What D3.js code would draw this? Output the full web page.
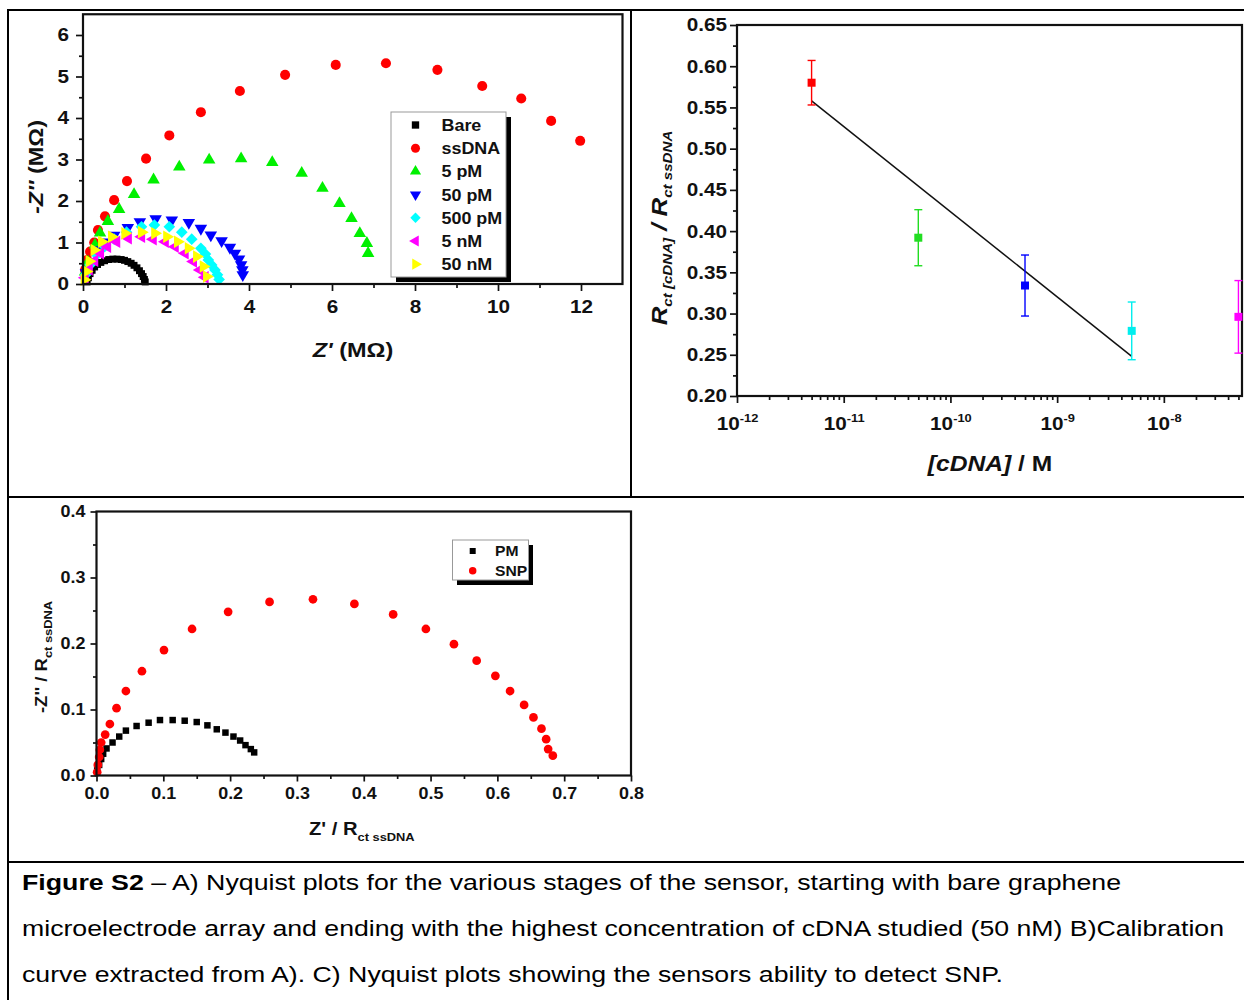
<!DOCTYPE html>
<html>
<head>
<meta charset="utf-8">
<script src="https://cdn.jsdelivr.net/npm/d3@7"></script>
<style>
  body { margin: 0; background: #fff; }
  svg { display: block; font-family: "Liberation Sans", Arial, sans-serif; }
</style>
</head>
<body>
<svg id="fig" width="1244" height="1000"></svg>
<script>
// ---------- panel A : Nyquist plots (MOhm) ----------
const aXTicks = [0, 2, 4, 6, 8, 10, 12];
const aXMinor = [1, 3, 5, 7, 9, 11];
const aYTicks = [0, 1, 2, 3, 4, 5, 6];
const aYMinor = [0.5, 1.5, 2.5, 3.5, 4.5, 5.5];

const bare = [[0.10,0.05],[0.13,0.15],[0.17,0.25],[0.22,0.33],[0.28,0.41],[0.35,0.47],[0.43,0.52],
  [0.52,0.56],[0.62,0.59],[0.72,0.60],[0.82,0.60],[0.92,0.59],[1.00,0.57],[1.08,0.54],[1.16,0.50],
  [1.23,0.45],[1.30,0.39],[1.36,0.32],[1.41,0.25],[1.45,0.18],[1.48,0.11],[1.50,0.05]];
const ssDNA = [[0.05,0.34],[0.10,0.58],[0.17,0.78],[0.27,1.00],[0.36,1.30],[0.53,1.63],[0.75,2.02],
  [1.06,2.48],[1.52,3.02],[2.08,3.58],[2.84,4.14],[3.78,4.65],[4.87,5.04],[6.09,5.28],[7.30,5.32],
  [8.54,5.16],[9.62,4.77],[10.56,4.47],[11.28,3.93],[11.98,3.45]];
const pM5 = [[0.05,0.29],[0.12,0.53],[0.29,0.94],[0.41,1.23],[0.60,1.51],[0.87,1.80],[1.23,2.16],
  [1.70,2.51],[2.32,2.82],[3.04,2.99],[3.81,3.02],[4.56,2.93],[5.27,2.67],[5.77,2.31],[6.18,1.94],
  [6.47,1.58],[6.67,1.22],[6.84,0.98],[6.87,0.74]];
const pM50 = [[0.07,0.27],[0.22,0.53],[0.41,0.82],[0.53,1.01],[0.75,1.17],[1.08,1.36],[1.37,1.50],
  [1.75,1.57],[2.14,1.54],[2.55,1.48],[2.84,1.34],[3.08,1.18],[3.34,1.04],[3.54,0.88],[3.66,0.74],
  [3.76,0.60],[3.81,0.46],[3.84,0.34],[3.85,0.22]];
const pM500 = [[0.06,0.22],[0.17,0.46],[0.33,0.70],[0.52,0.90],[0.75,1.08],[1.05,1.25],[1.41,1.38],
  [1.72,1.42],[2.08,1.38],[2.38,1.25],[2.62,1.08],[2.84,0.86],[2.95,0.72],[3.02,0.58],[3.10,0.46],
  [3.18,0.34],[3.24,0.22],[3.28,0.11]];
const nM5 = [[0.05,0.15],[0.15,0.35],[0.28,0.56],[0.42,0.74],[0.59,0.90],[0.81,1.02],[1.09,1.10],
  [1.41,1.14],[1.69,1.08],[1.98,1.02],[2.22,0.90],[2.46,0.74],[2.66,0.54],[2.82,0.34],[2.94,0.16]];
const nM50 = [[0.03,0.10],[0.08,0.30],[0.15,0.55],[0.27,0.82],[0.45,1.02],[0.69,1.14],[1.01,1.22],
  [1.41,1.25],[1.73,1.22],[2.02,1.14],[2.28,1.02],[2.54,0.86],[2.74,0.66],[2.90,0.42],[2.98,0.18]];

const aNames = ["Bare", "ssDNA", "5 pM", "50 pM", "500 pM", "5 nM", "50 nM"];
const aColors = ["#000000", "#ff0000", "#00f000", "#0000ff", "#00ffff", "#ff00ff", "#ffff00"];
const aShapes = ["square", "circle", "up", "down", "diamond", "left", "right"];
const aData = [bare, ssDNA, pM5, pM50, pM500, nM5, nM50];

// ---------- panel B : calibration ----------
const bConc = [5e-12, 5e-11, 5e-10, 5e-9, 5e-8];
const bRatio = [0.580, 0.392, 0.334, 0.279, 0.296];
const bErr = [0.027, 0.034, 0.037, 0.035, 0.044];
const bColors = ["#ff0000", "#22dd22", "#0000ff", "#00eeee", "#ff00ff"];
const bFit = [[5e-12, 0.558], [5e-9, 0.248]];
const bXTicks = [1e-12, 1e-11, 1e-10, 1e-9, 1e-8];
const bYTicks = [0.20, 0.25, 0.30, 0.35, 0.40, 0.45, 0.50, 0.55, 0.60, 0.65];
const bYMinor = [0.225, 0.275, 0.325, 0.375, 0.425, 0.475, 0.525, 0.575, 0.625];

// ---------- panel C : SNP ----------
const pm = [[0.001,0.008],[0.004,0.016],[0.007,0.025],[0.010,0.033],[0.015,0.041],[0.024,0.050],
  [0.034,0.059],[0.044,0.068],[0.060,0.075],[0.078,0.080],[0.095,0.084],[0.114,0.084],[0.132,0.083],
  [0.150,0.081],[0.166,0.076],[0.180,0.070],[0.193,0.065],[0.205,0.059],[0.215,0.053],[0.223,0.046],
  [0.231,0.040],[0.236,0.035]];
const snp = [[0.001,0.005],[0.002,0.016],[0.004,0.028],[0.005,0.039],[0.007,0.050],[0.013,0.062],
  [0.020,0.078],[0.030,0.102],[0.044,0.128],[0.068,0.158],[0.101,0.190],[0.143,0.222],[0.197,0.248],
  [0.259,0.263],[0.324,0.267],[0.386,0.260],[0.444,0.244],[0.493,0.222],[0.535,0.199],[0.569,0.174],
  [0.597,0.151],[0.619,0.128],[0.640,0.107],[0.654,0.088],[0.666,0.071],[0.673,0.055],[0.676,0.040],
  [0.683,0.030]];
const cNames = ["PM", "SNP"];
const cColors = ["#000000", "#ff0000"];
const cXTicks = [0, 0.1, 0.2, 0.3, 0.4, 0.5, 0.6, 0.7, 0.8];
const cXMinor = [0.05, 0.15, 0.25, 0.35, 0.45, 0.55, 0.65, 0.75];
const cYTicks = [0, 0.1, 0.2, 0.3, 0.4];
const cYMinor = [0.05, 0.15, 0.25, 0.35];

const captionLines = [
  [["Figure S2", "bold"], [" \u2013 A) Nyquist plots for the various stages of the sensor, starting with bare graphene", "normal"]],
  [["microelectrode array and ending with the highest concentration of cDNA studied (50 nM) B)Calibration", "normal"]],
  [["curve extracted from A). C) Nyquist plots showing the sensors ability to detect SNP.", "normal"]]
];

const SX = 1.12; // lettering in the scan is a bit wider than Arial
const svg = d3.select("#fig");

// table rules
[[7, 10, 1244, 10], [8, 10, 8, 1000], [631, 10, 631, 497], [8, 497, 1244, 497], [8, 862, 1244, 862]]
  .forEach(r => svg.append("line").attr("x1", r[0]).attr("y1", r[1]).attr("x2", r[2]).attr("y2", r[3])
    .attr("stroke", "#000").attr("stroke-width", 2));

function marker(kind, size) {
  const map = {
    square: [d3.symbolSquare, 0], circle: [d3.symbolCircle, 0], up: [d3.symbolTriangle, 0],
    down: [d3.symbolTriangle, 180], diamond: [d3.symbolSquare, 45],
    left: [d3.symbolTriangle, -90], right: [d3.symbolTriangle, 90]
  };
  const m = map[kind];
  return { d: d3.symbol().type(m[0]).size(size)(), rot: m[1] };
}

function axes(g, x, y, o) {
  const [x0, x1] = x.range(), [y0, y1] = y.range();
  g.append("g").attr("transform", `translate(0,${y0})`)
    .call(d3.axisBottom(x).tickValues(o.xMinor).tickSize(o.minor).tickFormat(""));
  g.append("g").attr("transform", `translate(${x0},0)`)
    .call(d3.axisLeft(y).tickValues(o.yMinor).tickSize(o.minor).tickFormat(""));
  const xa = g.append("g").attr("transform", `translate(0,${y0})`)
    .call(d3.axisBottom(x).tickValues(o.xTicks).tickSize(o.major).tickPadding(o.xPad).tickFormat(o.xFormat));
  const ya = g.append("g").attr("transform", `translate(${x0},0)`)
    .call(d3.axisLeft(y).tickValues(o.yTicks).tickSize(o.major).tickPadding(0).tickFormat(o.yFormat));
  g.selectAll(".domain").remove();
  g.selectAll("g").attr("font-family", null).attr("font-size", null);
  g.selectAll(".tick line").attr("stroke", "#111").attr("stroke-width", 1.7);
  g.selectAll(".tick text").attr("font-weight", "bold").attr("font-size", o.font).attr("fill", "#111")
    .attr("transform", `scale(${SX},1)`);
  ya.selectAll(".tick text").attr("x", -(o.major + o.yPad) / SX);
  g.append("rect").attr("x", x0).attr("y", y1).attr("width", x1 - x0).attr("height", y0 - y1)
    .attr("fill", "none").attr("stroke", "#111").attr("stroke-width", 2.2);
  return { xa, ya };
}

function label(g, x, y, rot, parts, size, anchor) {
  const t = g.append("text")
    .attr("transform", `translate(${x},${y}) rotate(${rot}) scale(${SX},1)`)
    .attr("text-anchor", anchor || "middle").attr("font-weight", "bold").attr("font-size", size).attr("fill", "#111");
  parts.forEach(p => t.append("tspan").attr("font-style", p.i ? "italic" : "normal")
    .attr("font-size", p.s || size).attr("dy", p.dy || 0).text(p.t));
  return t;
}

// ================= A =================
const gA = svg.append("g");
const ax = d3.scaleLinear().domain([0, 13]).range([83, 622.5]);
const ay = d3.scaleLinear().domain([0, 6.5]).range([284, 14.25]);

aData.forEach((pts, i) => {
  const m = marker(aShapes[i], i === 0 ? 48 : (i === 1 ? 80 : 68));
  gA.append("g").selectAll("path").data(pts).join("path")
    .attr("d", m.d)
    .attr("transform", d => `translate(${ax(d[0])},${ay(d[1])}) rotate(${m.rot})`)
    .attr("fill", aColors[i]);
});
axes(gA, ax, ay, { xTicks: aXTicks, xMinor: aXMinor, yTicks: aYTicks, yMinor: aYMinor,
  major: 7, minor: 4, xPad: 9, yPad: 7, font: 18.5, xFormat: d3.format("d"), yFormat: d3.format("d") });

label(gA, 353, 357, 0, [{ t: "Z'", i: true }, { t: " (M\u03a9)" }], 21);
label(gA, 43, 167, -90, [{ t: "-Z''", i: true }, { t: " (M\u03a9)" }], 21);

// legend A
const lgA = gA.append("g");
lgA.append("rect").attr("x", 396).attr("y", 117).attr("width", 115).attr("height", 165).attr("fill", "#000");
lgA.append("rect").attr("x", 391).attr("y", 112).attr("width", 115).attr("height", 165)
  .attr("fill", "#fff").attr("stroke", "#999").attr("stroke-width", 1);
aNames.forEach((name, i) => {
  const yy = 125 + i * 23.2;
  const m = marker(aShapes[i], i === 1 ? 64 : 54);
  lgA.append("path").attr("d", m.d).attr("transform", `translate(415.5,${yy}) rotate(${m.rot})`).attr("fill", aColors[i]);
  label(lgA, 441.5, yy + 6, 0, [{ t: name }], 16, "start");
});

// ================= B =================
const gB = svg.append("g");
const bx = d3.scaleLog().domain([1e-12, 5.4e-8]).range([737, 1242]);
const by = d3.scaleLinear().domain([0.2, 0.65]).range([396, 25]);
const bMinor = [];
for (let e = -12; e <= -8; e++) for (let k = 2; k <= 9; k++) {
  const v = k * Math.pow(10, e);
  if (v < 5.4e-8) bMinor.push(v);
}
const bAx = axes(gB, bx, by, { xTicks: bXTicks, xMinor: bMinor, yTicks: bYTicks, yMinor: bYMinor,
  major: 7, minor: 4, xPad: 14, yPad: 3, font: 18.5, xFormat: () => "10", yFormat: d3.format(".2f") });
bAx.xa.selectAll(".tick text").each(function (d) {
  d3.select(this).append("tspan").attr("font-size", 11.5).attr("dy", -8).text(Math.round(Math.log10(d)));
});

gB.append("path").datum(bFit)
  .attr("d", d3.line().x(d => bx(d[0])).y(d => by(d[1])))
  .attr("fill", "none").attr("stroke", "#111").attr("stroke-width", 1.5);

const bPts = gB.append("g").selectAll("g").data(bConc).join("g");
bPts.append("line").attr("x1", d => bx(d)).attr("x2", d => bx(d))
  .attr("y1", (d, i) => by(bRatio[i] + bErr[i])).attr("y2", (d, i) => by(bRatio[i] - bErr[i]))
  .attr("stroke", (d, i) => bColors[i]).attr("stroke-width", 1.4);
[1, -1].forEach(sgn => bPts.append("line")
  .attr("x1", d => bx(d) - 4).attr("x2", d => bx(d) + 4)
  .attr("y1", (d, i) => by(bRatio[i] + sgn * bErr[i])).attr("y2", (d, i) => by(bRatio[i] + sgn * bErr[i]))
  .attr("stroke", (d, i) => bColors[i]).attr("stroke-width", 1.4));
bPts.append("rect").attr("x", d => bx(d) - 4).attr("y", (d, i) => by(bRatio[i]) - 4)
  .attr("width", 8).attr("height", 8).attr("fill", (d, i) => bColors[i]);

label(gB, 990, 471, 0, [{ t: "[cDNA]", i: true }, { t: " / M" }], 22);
label(gB, 667, 228, -90, [
  { t: "R", i: true, s: 23 }, { t: "ct [cDNA]", i: true, s: 13.5, dy: 5 },
  { t: " / R", i: true, s: 23, dy: -5 }, { t: "ct ssDNA", i: true, s: 13.5, dy: 5 }], 22);

// ================= C =================
const gC = svg.append("g");
const cx = d3.scaleLinear().domain([0, 0.8]).range([96.5, 631]);
const cy = d3.scaleLinear().domain([0, 0.4]).range([775.5, 511.5]);
[pm, snp].forEach((pts, i) => {
  const m = marker(i === 0 ? "square" : "circle", i === 0 ? 42 : 60);
  gC.append("g").selectAll("path").data(pts).join("path")
    .attr("d", m.d).attr("transform", d => `translate(${cx(d[0])},${cy(d[1])})`).attr("fill", cColors[i]);
});
axes(gC, cx, cy, { xTicks: cXTicks, xMinor: cXMinor, yTicks: cYTicks, yMinor: cYMinor,
  major: 6, minor: 3.5, xPad: 6, yPad: 5, font: 16, xFormat: d3.format(".1f"), yFormat: d3.format(".1f") });

label(gC, 309, 835, 0, [{ t: "Z' / R" }, { t: "ct ssDNA", s: 11.5, dy: 6 }], 18, "start");
label(gC, 47, 657, -90, [{ t: "-Z'' / R" }, { t: "ct ssDNA", s: 11.5, dy: 5 }], 16.5);

const lgC = gC.append("g");
lgC.append("rect").attr("x", 457).attr("y", 545).attr("width", 76).attr("height", 40).attr("fill", "#000");
lgC.append("rect").attr("x", 452.5).attr("y", 540).attr("width", 76).attr("height", 40)
  .attr("fill", "#fff").attr("stroke", "#999").attr("stroke-width", 1);
cNames.forEach((name, i) => {
  const yy = 551 + i * 19.7;
  const m = marker(i === 0 ? "square" : "circle", i === 0 ? 36 : 44);
  lgC.append("path").attr("d", m.d).attr("transform", `translate(472.7,${yy})`).attr("fill", cColors[i]);
  label(lgC, 495, yy + 5, 0, [{ t: name }], 14, "start");
});

// ================= caption =================
const capWidths = [1099, 1202, 981];
captionLines.forEach((line, i) => {
  const t = svg.append("text").attr("x", 22).attr("y", 890 + i * 46)
    .attr("font-size", 22.5).attr("fill", "#000")
    .attr("textLength", capWidths[i]).attr("lengthAdjust", "spacingAndGlyphs");
  line.forEach(p => t.append("tspan").attr("font-weight", p[1]).text(p[0]));
});
</script>
</body>
</html>
